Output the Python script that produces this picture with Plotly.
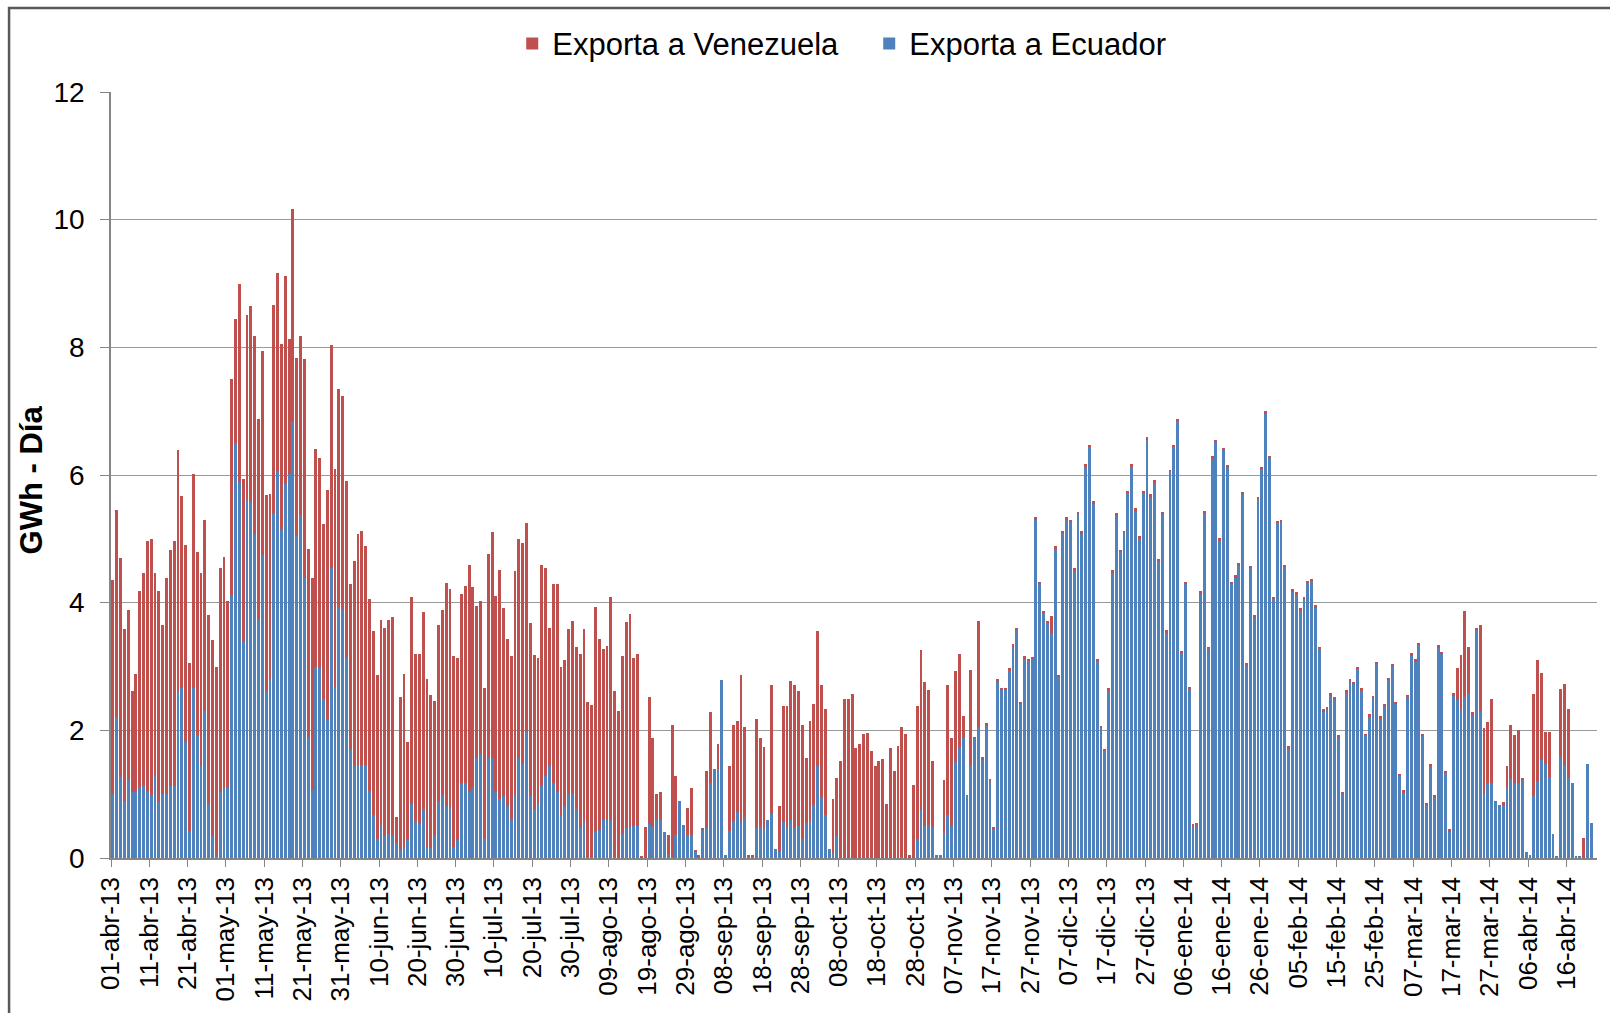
import pandas as pd
import plotly.graph_objs as go

# Exportaciones diarias de energía, GWh - Día (01-abr-13 a 22-abr-14)
start_date = '2013-04-01'

ecuador = [
    # abr-13
    1.01, 2.21, 1.27, 0.89, 1.22, 1.03, 1.05, 1.11, 1.14, 1.05, 0.99, 1.29, 0.88, 1.01, 1.01,
    1.13, 1.13, 2.61, 2.67, 1.82, 0.42, 2.67, 1.93, 1.44, 2.30, 0.85, 0.34, 0.05, 1.03, 1.09,
    # may-13
    1.09, 4.10, 6.50, 5.89, 3.39, 5.61, 5.58, 5.07, 3.75, 4.74, 2.61, 2.79, 5.41, 6.06, 5.14, 5.86,
    6.02, 6.85, 5.04, 5.37, 4.39, 1.88, 1.07, 3.00, 2.98, 2.49, 2.18, 4.54, 2.68, 3.93, 3.89,
    # jun-13
    3.14, 1.70, 1.44, 1.46, 1.46, 1.46, 1.05, 0.67, 0.30, 0.51, 0.34, 0.38, 0.36, 0.24, 0.13,
    0.17, 0.30, 0.85, 0.58, 0.54, 0.77, 0.17, 0.16, 0.36, 0.89, 0.99, 0.81, 0.79, 0.17, 0.28,
    # jul-13
    1.17, 1.17, 1.03, 1.09, 1.56, 1.63, 0.30, 1.56, 1.56, 1.05, 0.93, 0.97, 0.81, 0.60, 0.99, 1.56,
    1.48, 1.97, 0.97, 0.76, 0.84, 1.13, 1.28, 1.44, 1.17, 1.03, 0.68, 0.81, 1.01, 1.01, 0.77,
    # ago-13
    0.47, 0.58, 0.02, 0.02, 0.42, 0.44, 0.59, 0.59, 0.59, 0.02, 0.02, 0.38, 0.47, 0.47, 0.50, 0.50,
    0.00, 0.00, 0.54, 0.48, 0.60, 0.60, 0.40, 0.05, 0.02, 0.36, 0.89, 0.52, 0.36, 0.36, 0.10,
    # sep-13
    0.00, 0.44, 0.47, 1.17, 1.40, 1.40, 2.79, 0.05, 0.42, 0.58, 0.72, 0.56, 0.64, 0.02, 0.02,
    0.47, 0.48, 0.46, 0.59, 0.69, 0.14, 0.09, 0.56, 0.47, 0.60, 0.47, 0.50, 0.30, 0.55, 0.58,
    # oct-13
    0.83, 1.44, 0.95, 0.67, 0.14, 0.06, 0.34, 0.00, 0.00, 0.00, 0.00, 0.00, 0.00, 0.00, 0.00, 0.00,
    0.00, 0.00, 0.00, 0.00, 0.00, 0.00, 0.00, 0.02, 0.00, 0.00, 0.00, 0.30, 0.75, 0.50, 0.52,
    # nov-13
    0.48, 0.05, 0.05, 0.39, 0.67, 0.50, 1.51, 1.74, 1.88, 0.99, 1.46, 1.88, 2.06, 1.55, 2.08,
    1.21, 0.46, 2.77, 2.64, 2.64, 2.94, 3.32, 3.58, 2.42, 3.13, 3.09, 3.12, 5.31, 4.30, 3.84,
    # dic-13
    3.69, 3.52, 4.84, 2.84, 5.10, 5.31, 5.27, 4.51, 5.39, 5.09, 6.14, 6.44, 5.56, 3.09, 2.04, 1.68,
    2.63, 4.48, 5.37, 4.80, 5.10, 5.72, 6.14, 5.45, 5.01, 5.72, 6.56, 5.67, 5.89, 4.66, 5.39,
    # ene-14
    3.54, 6.05, 6.44, 6.85, 3.22, 4.30, 2.65, 0.50, 0.52, 4.15, 5.41, 3.28, 6.26, 6.52, 4.98, 6.40,
    6.12, 4.30, 4.40, 4.59, 5.71, 3.02, 4.55, 3.77, 5.63, 6.10, 6.97, 6.27, 4.06, 5.25, 5.27,
    # feb-14
    4.56, 1.72, 4.18, 4.13, 3.88, 4.06, 4.31, 4.34, 3.93, 3.28, 2.30, 2.33, 2.55, 2.49,
    1.89, 1.01, 2.60, 2.77, 2.73, 2.97, 2.63, 1.92, 2.22, 2.51, 3.04, 2.19, 2.39, 2.79,
    # mar-14
    3.01, 2.42, 1.29, 1.03, 2.53, 3.18, 3.08, 3.34, 1.92, 0.83, 1.44, 0.95, 3.30, 3.20, 1.34, 0.42,
    2.55, 2.47, 2.33, 2.53, 2.59, 2.25, 3.58, 2.31, 1.01, 1.18, 1.17, 0.88, 0.83, 0.84, 1.09,
    # abr-14
    1.23, 1.17, 1.18, 1.23, 0.10, 0.05, 0.97, 1.21, 1.54, 1.48, 1.27,
    0.38, 0.02, 1.58, 1.46, 1.26, 1.18, 0.02, 0.02, 0.00, 1.48, 0.55,
]

venezuela = [
    # abr-13
    3.35, 3.24, 3.43, 2.69, 2.67, 1.58, 1.83, 3.07, 3.32, 3.91, 4.01, 3.17, 3.30, 2.64, 3.38,
    3.69, 3.83, 3.78, 3.00, 3.08, 2.63, 3.34, 2.87, 3.02, 2.99, 2.95, 3.08, 2.95, 3.51, 3.63,
    # may-13
    2.94, 3.41, 1.95, 3.11, 2.55, 2.90, 3.06, 3.10, 3.12, 3.20, 3.08, 2.92, 3.26, 3.10, 2.92, 3.26,
    2.11, 3.32, 2.80, 2.81, 3.42, 2.96, 3.31, 3.40, 3.28, 2.74, 3.59, 3.49, 3.41, 3.41, 3.35,
    # jun-13
    2.76, 2.59, 3.22, 3.61, 3.67, 3.42, 3.01, 2.88, 2.56, 3.22, 3.26, 3.35, 3.41, 0.40, 2.40,
    2.71, 1.52, 3.24, 2.62, 2.66, 3.08, 2.64, 2.39, 2.10, 2.76, 2.90, 3.50, 3.42, 2.99, 2.86,
    # jul-13
    2.97, 3.09, 3.56, 3.16, 2.39, 2.40, 2.37, 3.20, 3.54, 3.06, 3.58, 2.94, 2.62, 2.56, 3.51, 3.44,
    3.46, 3.28, 2.71, 2.42, 2.29, 3.46, 3.27, 2.17, 3.12, 3.26, 2.32, 2.29, 2.57, 2.71, 2.54,
    # ago-13
    2.73, 3.01, 2.43, 2.37, 3.51, 2.99, 2.69, 2.73, 3.50, 2.59, 2.28, 2.78, 3.22, 3.36, 2.63, 2.70,
    0.02, 0.48, 1.99, 1.40, 0.41, 0.43, 0.00, 0.31, 2.06, 0.93, 0.00, 0.00, 0.43, 0.73, 0.02,
    # sep-13
    0.05, 0.02, 0.90, 1.12, 0.00, 0.38, 0.00, 0.00, 1.02, 1.50, 1.42, 2.30, 1.42, 0.02, 0.02,
    1.70, 1.40, 1.28, 0.00, 2.02, 0.00, 0.72, 1.82, 1.91, 2.17, 2.24, 2.11, 1.78, 1.01, 1.56,
    # oct-13
    1.59, 2.11, 1.76, 1.66, 0.00, 0.87, 0.92, 1.52, 2.49, 2.49, 2.57, 1.72, 1.78, 1.94, 1.96, 1.67,
    1.44, 1.52, 1.55, 0.84, 1.72, 1.37, 1.76, 2.04, 1.94, 0.04, 1.15, 2.08, 2.51, 2.26, 2.11,
    # nov-13
    1.04, 0.00, 0.00, 0.83, 2.04, 1.38, 1.42, 1.46, 0.34, 0.00, 1.48, 0.01, 1.66, 0.03, 0.03,
    0.03, 0.03, 0.03, 0.03, 0.03, 0.03, 0.03, 0.03, 0.03, 0.03, 0.03, 0.03, 0.03, 0.03, 0.03,
    # dic-13
    0.03, 0.27, 0.04, 0.03, 0.03, 0.03, 0.03, 0.03, 0.03, 0.03, 0.03, 0.03, 0.03, 0.03, 0.03, 0.03,
    0.03, 0.03, 0.03, 0.03, 0.03, 0.03, 0.03, 0.03, 0.03, 0.03, 0.03, 0.03, 0.03, 0.03, 0.03,
    # ene-14
    0.03, 0.03, 0.03, 0.03, 0.03, 0.03, 0.03, 0.03, 0.03, 0.03, 0.03, 0.03, 0.03, 0.03, 0.03, 0.03,
    0.03, 0.03, 0.03, 0.03, 0.03, 0.03, 0.03, 0.03, 0.03, 0.03, 0.03, 0.03, 0.03, 0.03, 0.03,
    # feb-14
    0.03, 0.03, 0.03, 0.03, 0.03, 0.03, 0.03, 0.03, 0.03, 0.03, 0.03, 0.03, 0.03, 0.03,
    0.03, 0.03, 0.03, 0.03, 0.03, 0.03, 0.03, 0.03, 0.03, 0.03, 0.03, 0.03, 0.03, 0.03,
    # mar-14
    0.03, 0.03, 0.03, 0.03, 0.03, 0.03, 0.03, 0.03, 0.03, 0.03, 0.03, 0.03, 0.03, 0.03, 0.03, 0.03,
    0.03, 0.51, 0.85, 1.34, 0.72, 0.03, 0.01, 1.34, 1.03, 0.95, 1.32, 0.01, 0.00, 0.03, 0.35,
    # abr-14
    0.85, 0.76, 0.82, 0.02, 0.00, 0.00, 1.60, 1.89, 1.36, 0.49, 0.70,
    0.00, 0.00, 1.06, 1.26, 1.08, 0.00, 0.00, 0.00, 0.32, 0.00, 0.00,
]

meses = ['ene', 'feb', 'mar', 'abr', 'may', 'jun', 'jul', 'ago', 'sep', 'oct', 'nov', 'dic']

# bars sit between day ticks (Excel style), so centre them at noon
dias = pd.date_range(start_date + ' 12:00', periods=len(ecuador), freq='D')
tick_dates = pd.date_range(start_date, '2014-04-16', freq='10D')
tick_text = ['%02d-%s-%s' % (d.day, meses[d.month - 1], d.strftime('%y')) for d in tick_dates]

font_family = 'Arial, Liberation Sans, sans-serif'

fig = go.Figure()
fig.add_trace(go.Bar(
    x=dias, y=ecuador,
    name='Exporta a Ecuador',
    marker=dict(color='#4F81BD', line=dict(width=0)),
))
fig.add_trace(go.Bar(
    x=dias, y=venezuela,
    name='Exporta a Venezuela',
    marker=dict(color='#C0504D', line=dict(width=0)),
))

fig.update_layout(
    width=1610,
    height=1013,
    barmode='stack',
    bargap=0.25,
    paper_bgcolor='white',
    plot_bgcolor='white',
    font=dict(family=font_family, color='black', size=28),
    margin=dict(l=111, r=13, t=92, b=146),
    legend=dict(
        orientation='h',
        traceorder='reversed',
        x=0.270, xanchor='left',
        y=1.063, yanchor='middle',
        font=dict(size=31),
        itemwidth=30,
        entrywidth=312,
    ),
    xaxis=dict(
        type='date',
        range=['2013-04-01', '2014-04-24'],
        tickvals=tick_dates,
        ticktext=tick_text,
        tickangle=-90,
        tickfont=dict(size=26),
        ticks='outside',
        ticklen=7,
        tickcolor='#868686',
        showline=True,
        linecolor='#868686',
        linewidth=1.5,
        showgrid=False,
    ),
    yaxis=dict(
        range=[0, 12],
        dtick=2,
        tickfont=dict(size=28),
        ticks='outside',
        ticklen=9,
        tickcolor='#868686',
        ticklabelstandoff=10,
        showline=True,
        linecolor='#868686',
        linewidth=1.5,
        showgrid=True,
        gridcolor='#9a9a9a',
        gridwidth=1.2,
        zeroline=False,
    ),
)

# y-axis title
fig.add_annotation(
    text='<b>GWh - Día</b>',
    xref='paper', yref='paper',
    x=-0.0538, y=0.493,
    xanchor='center', yanchor='middle',
    textangle=-90,
    showarrow=False,
    font=dict(size=31, family=font_family),
)

# chart area frame
fig.add_shape(
    type='rect', xref='paper', yref='paper',
    x0=-0.0686, x1=1.03, y0=-0.3, y1=1.1097,
    line=dict(color='#595959', width=2.5),
    layer='below',
)

fig.write_html("out.html", config={'displayModeBar': False},
               post_script="document.body.style.margin='0';")
